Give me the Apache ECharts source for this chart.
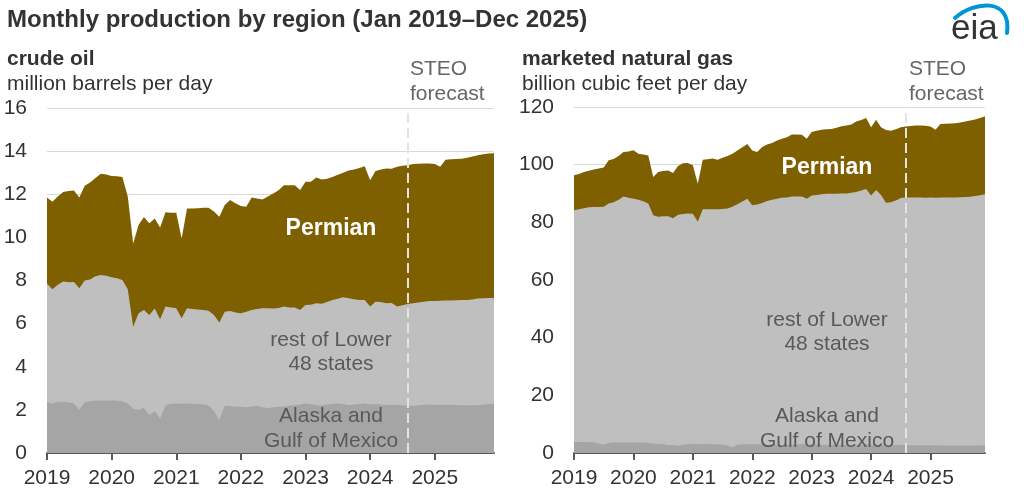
<!DOCTYPE html>
<html>
<head>
<meta charset="utf-8">
<script src="https://cdn.jsdelivr.net/npm/echarts@6/dist/echarts.min.js"></script>
<style>
html,body{margin:0;padding:0;background:#fff;}
#c{width:1024px;height:495px;}
</style>
</head>
<body>
<div id="c"></div>
<script>
// ---- data ----
const years = ['2019','2020','2021','2022','2023','2024','2025'];
const months = [];
years.forEach(function (y) { for (let m = 1; m <= 12; m++) months.push(y + '-' + (m < 10 ? '0' : '') + m); });
const forecastStart = '2024-08';

// crude oil, million barrels per day (cumulative boundaries)
const oilTotal = [
11.85,11.65,11.9,12.1,12.15,12.17,11.85,12.4,12.55,12.75,12.95,12.92,
12.85,12.83,12.8,11.9,9.72,10.57,10.95,10.65,10.88,10.46,11.16,11.14,
11.14,9.95,11.34,11.34,11.35,11.37,11.37,11.2,10.96,11.5,11.73,11.58,
11.45,11.42,11.85,11.8,11.76,11.9,12.04,12.19,12.42,12.42,12.42,12.2,
12.58,12.58,12.78,12.68,12.72,12.8,12.9,13.0,13.1,13.15,13.22,13.3,
12.65,13.08,13.15,13.2,13.18,13.28,13.32,13.35,13.4,13.42,13.43,13.43,
13.4,13.27,13.6,13.62,13.63,13.65,13.69,13.75,13.81,13.85,13.89,13.9];
const oilNonPermian = [
7.85,7.6,7.8,7.95,7.92,7.93,7.64,8.0,8.05,8.2,8.25,8.22,
8.15,8.1,8.02,7.6,5.86,6.48,6.63,6.4,6.7,6.2,6.79,6.75,
6.71,6.25,6.71,6.68,6.66,6.63,6.6,6.4,6.05,6.55,6.58,6.52,
6.48,6.55,6.63,6.68,6.71,6.71,6.7,6.73,6.79,6.75,6.75,6.63,
6.86,6.88,6.94,6.92,7.0,7.09,7.15,7.22,7.18,7.13,7.1,7.09,
6.79,7.02,7.0,6.94,6.96,6.79,6.85,6.91,6.94,6.98,7.02,7.05,
7.05,7.06,7.07,7.07,7.08,7.09,7.1,7.12,7.16,7.18,7.19,7.19];
const oilAlaskaGom = [
2.35,2.3,2.38,2.38,2.35,2.3,2.0,2.35,2.4,2.43,2.44,2.43,
2.43,2.42,2.4,2.3,2.05,2.0,2.1,1.75,1.95,1.6,2.2,2.28,
2.3,2.28,2.3,2.28,2.27,2.26,2.2,1.95,1.53,2.18,2.18,2.15,
2.14,2.12,2.16,2.19,2.12,2.07,2.12,2.14,2.15,2.2,2.22,2.25,
2.3,2.27,2.22,2.2,2.25,2.28,2.3,2.27,2.22,2.25,2.27,2.3,
2.25,2.27,2.25,2.22,2.24,2.23,2.22,2.2,2.18,2.22,2.24,2.25,
2.24,2.23,2.24,2.24,2.23,2.22,2.22,2.21,2.22,2.25,2.27,2.28];

// marketed natural gas, billion cubic feet per day
const gasTotal = [
96.3,96.8,97.5,97.9,98.3,98.7,99.0,101.5,102.0,103.0,104.4,104.6,
105.0,103.8,103.5,103.2,95.7,97.5,97.8,98.0,97.1,99.5,100.5,100.6,
99.8,93.4,101.7,101.9,102.1,101.7,102.4,103.0,103.8,104.9,106.0,107.2,
104.9,104.4,106.1,107.0,107.5,108.4,109.0,109.5,110.5,110.5,110.4,109.0,
111.3,111.8,112.1,112.3,112.4,112.8,113.3,113.6,113.9,115.0,115.5,116.2,
113.0,115.6,113.0,112.0,111.8,112.3,113.0,113.2,113.4,113.6,113.6,113.5,
113.2,112.1,114.1,114.2,114.3,114.4,114.6,115.0,115.3,115.7,116.2,116.8];
const gasNonPermian = [
84.2,84.5,84.9,85.2,85.3,85.3,85.4,86.5,87.0,87.8,89.0,88.5,
88.2,87.8,87.3,86.5,82.5,81.9,82.1,82.1,81.4,82.6,82.9,83.1,
83.0,80.2,84.5,84.5,84.5,84.5,84.6,84.8,85.4,86.3,87.2,88.2,
85.9,86.2,86.7,87.4,87.8,88.2,88.5,88.6,89.0,89.0,89.0,88.2,
89.3,89.5,89.7,89.9,89.9,89.9,90.0,90.0,90.3,90.5,91.0,91.6,
89.3,91.2,89.5,86.8,87.0,87.6,88.4,88.6,88.6,88.6,88.6,88.5,
88.6,88.5,88.6,88.6,88.6,88.6,88.7,88.8,88.9,89.1,89.4,89.7];
const gasAlaskaGom = [
3.8,3.8,3.8,3.7,3.7,3.3,2.9,3.5,3.6,3.6,3.6,3.6,
3.6,3.6,3.6,3.5,3.3,3.1,3.0,2.7,2.8,2.5,2.9,3.0,
3.1,3.0,3.1,3.1,3.0,3.0,2.9,2.6,2.0,2.9,3.0,3.0,
3.0,3.0,3.0,2.9,2.9,2.8,2.8,2.9,2.9,3.0,3.0,3.0,
3.0,3.0,2.9,2.9,2.9,2.9,2.9,2.9,2.8,2.9,2.9,3.0,
2.9,2.9,2.9,2.8,2.8,2.8,2.8,2.8,2.7,2.7,2.7,2.7,
2.7,2.7,2.6,2.6,2.6,2.6,2.6,2.6,2.6,2.6,2.7,2.7];

// ---- chart ----
const FONT = '"Liberation Sans", Arial, sans-serif';
const C_PERM = '#7f6000', C_REST = '#bfbfbf', C_AK = '#a5a5a5';
const chart = echarts.init(document.getElementById('c'), null, {renderer: 'canvas'});

function xAxis(gi) {
  return {
    type: 'category', gridIndex: gi, data: months, boundaryGap: false,
    axisLine: {lineStyle: {color: '#595959', width: 2}},
    axisTick: {show: true, interval: function (i) { return i % 12 === 0; }, length: 7, lineStyle: {color: '#595959', width: 2}},
    axisLabel: {interval: function (i) { return i % 12 === 0; }, formatter: function (v) { return v.slice(0, 4); },
      fontSize: 21, color: '#333', fontFamily: FONT, margin: 15},
    splitLine: {show: false}
  };
}
function yAxis(gi, max, interval) {
  return {
    type: 'value', gridIndex: gi, min: 0, max: max, interval: interval,
    axisLine: {show: false}, axisTick: {show: false},
    axisLabel: {fontSize: 21, color: '#333', fontFamily: FONT, margin: 20},
    splitLine: {lineStyle: {color: '#d9d9d9', width: 1}}
  };
}
function area(name, data, color, gi, z, withMark) {
  const s = {
    name: name, type: 'line', xAxisIndex: gi, yAxisIndex: gi, data: data,
    symbol: 'none', showSymbol: false, lineStyle: {width: 0}, areaStyle: {color: color, opacity: 1},
    itemStyle: {color: color}, silent: true, z: z, animation: false
  };
  if (withMark) {
    s.markLine = {
      silent: true, symbol: ['none', 'none'], label: {show: false},
      lineStyle: {color: '#e3e3e3', type: [10, 5], width: 2},
      data: [{xAxis: forecastStart}], animation: false
    };
  }
  return s;
}
function txt(x, y, text, size, color, weight, align, lh) {
  return {type: 'text', x: x, y: y, silent: true, z: 100,
    style: {text: text, fill: color, font: (weight || 'normal') + ' ' + size + 'px ' + FONT,
      fontSize: size, fontWeight: weight || 'normal', fontFamily: FONT,
      textAlign: align || 'left', align: align || 'left', textVerticalAlign: 'middle', verticalAlign: 'middle',
      lineHeight: lh || size}};
}

chart.setOption({
  backgroundColor: '#fff',
  animation: false,
  grid: [
    {left: 47, right: 530, top: 108, bottom: 42, containLabel: false},
    {left: 574, right: 39, top: 107, bottom: 42, containLabel: false}
  ],
  xAxis: [xAxis(0), xAxis(1)],
  yAxis: [yAxis(0, 16, 2), yAxis(1, 120, 20)],
  series: [
    area('Permian', oilTotal, C_PERM, 0, 2, false),
    area('rest of Lower 48 states', oilNonPermian, C_REST, 0, 3, false),
    area('Alaska and Gulf of Mexico', oilAlaskaGom, C_AK, 0, 4, true),
    area('Permian', gasTotal, C_PERM, 1, 2, false),
    area('rest of Lower 48 states', gasNonPermian, C_REST, 1, 3, false),
    area('Alaska and Gulf of Mexico', gasAlaskaGom, C_AK, 1, 4, true)
  ],
  graphic: [
    txt(7, 20, 'Monthly production by region (Jan 2019\u2013Dec 2025)', 24, '#333', 'bold'),
    txt(7, 59, 'crude oil', 21, '#333', 'bold'),
    txt(7, 84, 'million barrels per day', 21, '#333'),
    txt(522, 59, 'marketed natural gas', 21, '#333', 'bold'),
    txt(522, 84, 'billion cubic feet per day', 21, '#333'),
    txt(410, 81.5, 'STEO\nforecast', 21, '#666', 'normal', 'left', 25),
    txt(909, 81.5, 'STEO\nforecast', 21, '#666', 'normal', 'left', 25),
    txt(331, 229, 'Permian', 23, '#fff', 'bold', 'center'),
    txt(827, 168, 'Permian', 23, '#fff', 'bold', 'center'),
    txt(331, 352, 'rest of Lower\n48 states', 21, '#595959', 'normal', 'center', 24),
    txt(827, 332, 'rest of Lower\n48 states', 21, '#595959', 'normal', 'center', 24),
    txt(331, 429, 'Alaska and\nGulf of Mexico', 21, '#595959', 'normal', 'center', 25),
    txt(827, 429, 'Alaska and\nGulf of Mexico', 21, '#595959', 'normal', 'center', 25),
    txt(951, 29, 'eia', 35, '#333', 'normal'),
    {type: 'bezierCurve', silent: true, z: 100,
      shape: {x1: 955, y1: 18, cpx1: 974, cpy1: 1, cpx2: 1012, cpy2: -3, x2: 1007, y2: 33},
      style: {stroke: '#0096d6', lineWidth: 4, fill: null, lineCap: 'round'}}
  ]
});
</script>
</body>
</html>
